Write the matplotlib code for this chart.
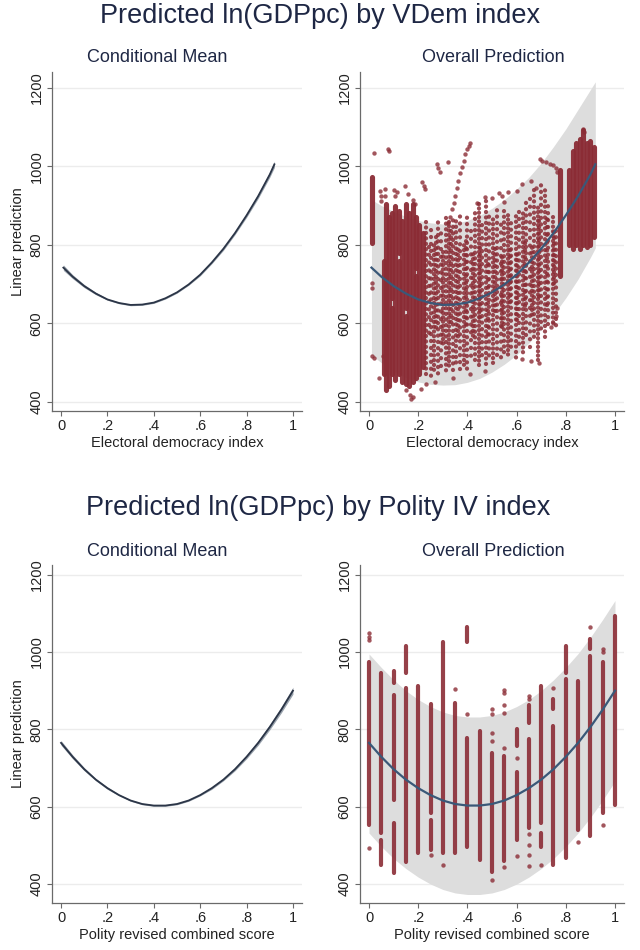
import matplotlib
matplotlib.use("Agg")
import matplotlib.pyplot as plt

plt.rcParams["font.family"] = ["Liberation Sans", "DejaVu Sans"]

# ---- fitted curves ----
vd_x = [0.01, 0.05, 0.10, 0.15, 0.20, 0.25, 0.30, 0.35, 0.40, 0.45,
        0.50, 0.55, 0.60, 0.65, 0.70, 0.75, 0.80, 0.85, 0.90, 0.92]
vd_fit = [742, 719, 695, 676, 661, 652, 647, 648, 653, 664,
          679, 699, 724, 755, 790, 830, 875, 924, 979, 1005]
vd_ci_lo = [735, 714, 691, 673, 659, 650, 645, 646, 651, 662,
            677, 697, 721, 752, 786, 826, 870, 918, 972, 997]
vd_ci_hi = [749, 724, 699, 679, 663, 654, 649, 650, 655, 666,
            681, 701, 727, 758, 794, 834, 880, 930, 986, 1013]
vd_pi_lo = [520, 500, 478, 462, 451, 445, 443, 444, 450, 460,
            476, 496, 520, 550, 585, 622, 665, 713, 768, 792]
vd_pi_hi = [915, 900, 885, 872, 862, 856, 853, 855, 862, 875,
            893, 915, 942, 972, 1008, 1050, 1095, 1145, 1195, 1215]

po_x = [0.00, 0.05, 0.10, 0.15, 0.20, 0.25, 0.30, 0.35, 0.40, 0.45, 0.50,
        0.55, 0.60, 0.65, 0.70, 0.75, 0.80, 0.85, 0.90, 0.95, 1.00]
po_fit = [765, 729, 697, 670, 648, 630, 616, 607, 603, 603, 607,
          616, 630, 648, 670, 697, 729, 765, 806, 851, 900]
po_ci_lo = [759, 724, 693, 667, 645, 628, 614, 605, 601, 601, 605,
            614, 628, 645, 667, 693, 724, 759, 799, 843, 891]
po_ci_hi = [771, 734, 701, 673, 651, 632, 618, 609, 605, 605, 609,
            618, 632, 651, 673, 701, 734, 771, 813, 859, 909]
po_pi_lo = [532, 497, 466, 440, 418, 400, 386, 377, 373, 373, 377,
            386, 400, 418, 440, 466, 497, 532, 572, 617, 666]
po_pi_hi = [995, 960, 928, 900, 877, 859, 845, 836, 832, 832, 836,
            845, 859, 877, 900, 928, 960, 996, 1038, 1084, 1133]

# ---- VDem scatter: dense streaks, sparse streaks, single points ----
vd_dense = [
    (0.012, 805, 972), (0.060, 470, 760), (0.068, 430, 905), (0.080, 440, 870),
    (0.093, 470, 640), (0.093, 665, 880), (0.107, 455, 900), (0.121, 470, 760),
    (0.121, 780, 885), (0.135, 450, 860), (0.149, 445, 620), (0.149, 640, 905),
    (0.163, 440, 880), (0.177, 450, 905), (0.191, 460, 720), (0.191, 740, 870),
    (0.205, 470, 850), (0.219, 490, 830),
    (0.778, 720, 990), (0.815, 800, 990), (0.829, 790, 1040), (0.843, 800, 1060),
    (0.857, 790, 1070), (0.871, 800, 1092), (0.885, 795, 1060), (0.899, 800, 1065),
    (0.913, 820, 1050),
]
vd_sparse = [
    (0.233, 470, 860), (0.251, 455, 850), (0.264, 470, 800), (0.281, 460, 860),
    (0.294, 480, 840), (0.311, 470, 870), (0.324, 490, 865), (0.342, 480, 870),
    (0.354, 500, 860), (0.371, 475, 880), (0.386, 490, 800), (0.399, 480, 870),
    (0.416, 500, 850), (0.429, 495, 890), (0.446, 490, 905), (0.459, 505, 860),
    (0.476, 495, 915), (0.489, 510, 880), (0.506, 500, 870), (0.519, 520, 890),
    (0.536, 510, 860), (0.549, 525, 900), (0.566, 515, 880), (0.579, 530, 870),
    (0.596, 510, 880), (0.609, 540, 900), (0.626, 520, 890), (0.639, 560, 920),
    (0.656, 530, 930), (0.669, 560, 950), (0.686, 500, 900), (0.699, 580, 960),
    (0.716, 560, 940), (0.729, 590, 900), (0.746, 600, 870), (0.759, 590, 850),
    (0.242, 560, 800), (0.273, 580, 830), (0.302, 540, 790), (0.333, 600, 840),
    (0.362, 560, 800), (0.393, 590, 820), (0.422, 560, 780), (0.453, 600, 800),
    (0.482, 570, 760), (0.513, 620, 800), (0.542, 580, 770), (0.573, 640, 800),
    (0.602, 600, 780), (0.633, 640, 820), (0.662, 620, 800), (0.693, 660, 860),
    (0.722, 640, 880), (0.753, 700, 840),
]
vd_pt_x = [0.020, 0.078, 0.082, 0.012, 0.012, 0.011, 0.022, 0.042, 0.055,
           0.045, 0.047, 0.048, 0.065, 0.066, 0.100, 0.105, 0.112, 0.146, 0.160,
           0.180, 0.186, 0.214, 0.222, 0.228, 0.275, 0.282, 0.290, 0.322,
           0.322, 0.330, 0.338, 0.345, 0.350, 0.357, 0.363, 0.370, 0.377, 0.385,
           0.392, 0.400, 0.405, 0.412,
           0.165, 0.172, 0.180, 0.150, 0.210, 0.230, 0.270, 0.340, 0.410, 0.470,
           0.690, 0.660, 0.620,
           0.530, 0.540, 0.550, 0.565, 0.600, 0.620, 0.660, 0.680, 0.695, 0.705,
           0.720, 0.735, 0.750, 0.760, 0.765, 0.440, 0.470, 0.500,
           0.868, 0.872, 0.760, 0.750, 0.740, 0.765]
vd_pt_y = [1033, 1045, 1038, 703, 690, 516, 512, 460, 516,
           937, 925, 912, 941, 925, 940, 925, 935, 951, 930,
           915, 905, 960, 950, 941, 1005, 995, 986, 1011,
           856, 872, 890, 906, 924, 944, 962, 982, 998, 1014,
           1030, 1045, 1052, 1059,
           418, 408, 412, 430, 432, 445, 450, 460, 470, 480,
           498, 505, 510,
           933, 925, 910, 935, 938, 955, 962, 945, 1018, 1014,
           1010, 1007, 1003, 995, 985, 907, 922, 918,
           1094, 1086, 620, 600, 590, 640]

# ---- Polity scatter: vertical strips at each score, plus single points ----
po_strips = [
    (0.00, 553, 973), (0.05, 532, 947), (0.05, 449, 514), (0.10, 921, 951),
    (0.10, 618, 890), (0.10, 428, 557), (0.15, 947, 1016), (0.15, 458, 908),
    (0.20, 480, 912), (0.25, 584, 865), (0.25, 488, 566), (0.30, 480, 1025),
    (0.35, 480, 869), (0.40, 1025, 1064), (0.40, 497, 778), (0.45, 462, 796),
    (0.50, 430, 740), (0.55, 460, 730), (0.60, 757, 800), (0.60, 514, 690),
    (0.65, 817, 862), (0.65, 545, 775), (0.70, 557, 912), (0.70, 497, 531),
    (0.75, 852, 878), (0.75, 450, 808), (0.80, 947, 1016), (0.80, 467, 930),
    (0.85, 540, 925), (0.90, 1008, 1034), (0.90, 523, 990), (0.95, 583, 973),
    (1.00, 605, 1094),
]
po_pt_x = [0.00, 0.00, 0.00, 0.00, 0.25, 0.30, 0.35, 0.40, 0.50, 0.50, 0.50,
           0.50, 0.50, 0.55, 0.55, 0.55, 0.55, 0.55, 0.55, 0.60, 0.60, 0.65,
           0.65, 0.65, 0.65, 0.65, 0.65, 0.70, 0.75, 0.85, 0.90, 0.95, 0.95, 0.95]
po_pt_y = [1049, 1040, 1030, 493, 475, 450, 904, 839, 852, 840, 790, 770,
           410, 903, 893, 862, 843, 752, 445, 473, 725, 886, 878, 530,
           500, 475, 447, 449, 908, 510, 1064, 1008, 999, 553]

RED = "#8b2c35"
BAND = "#dddddd"
NAVY = "#1e2744"
AX = "#6a6a6a"
GAPS = [1.25, 1.6, 1.1, 1.45, 1.8, 1.3, 1.0, 1.5]

fig = plt.figure(figsize=(6.4, 9.5), dpi=100)
W, H = 640.0, 950.0


def make_axes(left, right, top, bottom):
    return fig.add_axes([left / W, 1 - bottom / H, (right - left) / W, (bottom - top) / H])


def style(ax, xlim, ylim, xlabel, ylabel=None):
    ax.set_xlim(*xlim)
    ax.set_ylim(*ylim)
    ax.set_xticks([0, 0.2, 0.4, 0.6, 0.8, 1.0])
    ax.set_xticklabels(["0", ".2", ".4", ".6", ".8", "1"])
    ax.set_yticks([400, 600, 800, 1000, 1200])
    ax.tick_params(axis="both", direction="out", length=3.6, width=0.8,
                   color=AX, labelsize=10.5, labelcolor="#222222", pad=2.5)
    ax.tick_params(axis="y", labelrotation=90)
    for lab in ax.get_yticklabels():
        lab.set_va("center")
    for s in ("top", "right"):
        ax.spines[s].set_visible(False)
    for s in ("left", "bottom"):
        ax.spines[s].set_color(AX)
        ax.spines[s].set_linewidth(0.9)
    ax.yaxis.grid(True, color="#ececec", lw=1.0)
    ax.set_axisbelow(True)
    ax.set_xlabel(xlabel, fontsize=10.5, color="#222222", labelpad=2)
    if ylabel:
        ax.set_ylabel(ylabel, fontsize=10.5, color="#222222", labelpad=3)


def draw_solid(ax, segs, lw, alpha):
    for x, lo, hi in segs:
        ax.plot([x, x], [lo, hi], color=RED, lw=lw, alpha=alpha,
                solid_capstyle="round", zorder=3)


def draw_dotted(ax, segs, lw, alpha):
    # each streak is a chain of round dots; vary the spacing so rows don't line up
    for i, (x, lo, hi) in enumerate(segs):
        gap = GAPS[i % len(GAPS)]
        off = (i * 0.61) % gap
        ax.plot([x, x], [lo, hi], color=RED, lw=lw, alpha=alpha,
                ls=(off, (0.01, gap)), dash_capstyle="round", zorder=3)


# ---- VDem row ----
ax1 = make_axes(52, 302, 72, 411)
ax1.fill_between(vd_x, vd_ci_lo, vd_ci_hi, color="#9aa3ad", lw=0, zorder=2)
ax1.plot(vd_x, vd_fit, color="#2b3547", lw=1.3, zorder=3)
style(ax1, (-0.039, 1.039), (377, 1240), "Electoral democracy index", "Linear prediction")

ax2 = make_axes(360, 624, 72, 411)
ax2.fill_between(vd_x, vd_pi_lo, vd_pi_hi, color=BAND, lw=0, zorder=1)
draw_solid(ax2, vd_dense, 3.7, 0.95)
draw_dotted(ax2, vd_sparse, 3.1, 0.85)
ax2.scatter(vd_pt_x, vd_pt_y, s=10, color=RED, alpha=0.8, lw=0, zorder=3)
ax2.plot(vd_x, vd_fit, color="#3a5878", lw=1.6, zorder=4)
style(ax2, (-0.0366, 1.0366), (377, 1240), "Electoral democracy index")

# ---- Polity row ----
ax3 = make_axes(52, 302, 565, 903)
ax3.fill_between(po_x, po_ci_lo, po_ci_hi, color="#9aa3ad", lw=0, zorder=2)
ax3.plot(po_x, po_fit, color="#2b3547", lw=1.3, zorder=3)
style(ax3, (-0.039, 1.039), (351, 1225), "Polity revised combined score", "Linear prediction")

ax4 = make_axes(360, 624, 565, 903)
ax4.fill_between(po_x, po_pi_lo, po_pi_hi, color=BAND, lw=0, zorder=1)
draw_solid(ax4, po_strips, 3.0, 0.9)
ax4.scatter(po_pt_x, po_pt_y, s=10, color=RED, alpha=0.8, lw=0, zorder=3)
ax4.plot(po_x, po_fit, color="#3a5878", lw=1.6, zorder=4)
style(ax4, (-0.0366, 1.0366), (351, 1225), "Polity revised combined score")

# ---- titles ----
fig.text(320 / W, 1 - 16 / H, "Predicted ln(GDPpc) by VDem index",
         ha="center", va="center", fontsize=19.5, color=NAVY)
fig.text(157 / W, 1 - 58 / H, "Conditional Mean", ha="center", va="center",
         fontsize=13, color=NAVY)
fig.text(493 / W, 1 - 58 / H, "Overall Prediction", ha="center", va="center",
         fontsize=13, color=NAVY)
fig.text(318 / W, 1 - 508 / H, "Predicted ln(GDPpc) by Polity IV index",
         ha="center", va="center", fontsize=19.5, color=NAVY)
fig.text(157 / W, 1 - 551 / H, "Conditional Mean", ha="center", va="center",
         fontsize=13, color=NAVY)
fig.text(493 / W, 1 - 551 / H, "Overall Prediction", ha="center", va="center",
         fontsize=13, color=NAVY)

fig.savefig("out.png", dpi=100, facecolor="white")
